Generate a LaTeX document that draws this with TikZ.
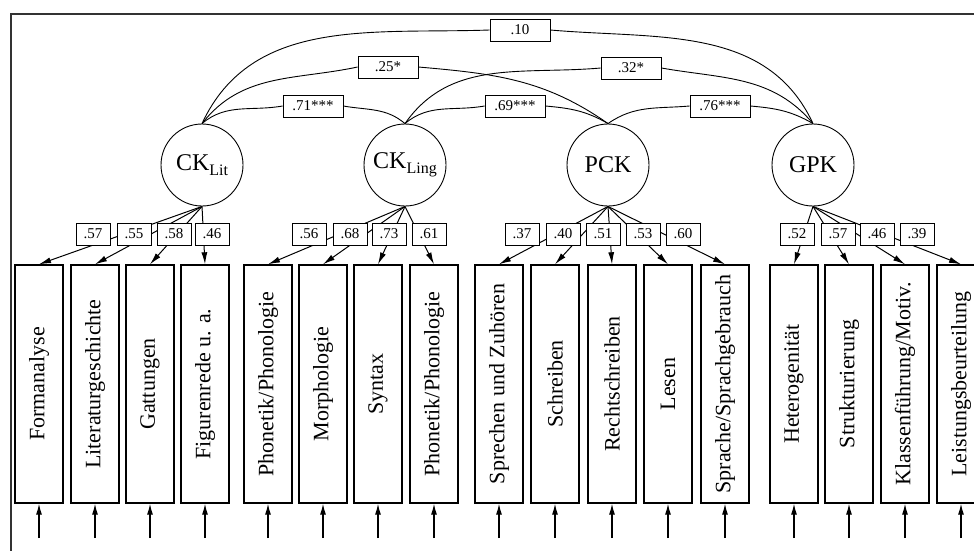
\documentclass[tikz,border=0pt]{standalone}
\usepackage{fontspec}
\setmainfont{Liberation Serif}
\usetikzlibrary{arrows.meta}
\newcommand{\lsub}[1]{\raisebox{-5pt}{\fontsize{16}{16}\selectfont #1}}

\begin{document}
\begin{tikzpicture}[x=1pt, y=1pt,
    lat/.style={draw, circle, line width=0.9pt, minimum size=82pt, inner sep=0pt, font=\fontsize{24}{24}\selectfont},
    ind/.style={draw, line width=1.4pt, minimum width=48pt, minimum height=238pt, inner sep=0pt, font=\fontsize{22}{22}\selectfont},
    wt/.style={draw, fill=white, line width=0.8pt, minimum width=34pt, minimum height=22pt, inner sep=1pt, font=\fontsize{15}{15}\selectfont},
    cv/.style={wt, minimum width=60pt},
    load/.style={line width=1pt, -{Latex[length=12pt, width=6pt]}},
    err/.style={line width=1.1pt, -{Latex[length=11pt, width=6pt]}},
    cov/.style={line width=0.9pt}]
    \useasboundingbox (0,0) rectangle (974,-550);
    \draw[line width=2pt, black!80] (11,-600) -- (11,-14) -- (1000,-14);
    \node[lat] (lit)  at (202,-165) {CK\lsub{Lit}};
    \node[lat] (ling) at (405,-165) {CK\lsub{Ling}};
    \node[lat] (pck)  at (608,-165) {PCK};
    \node[lat] (gpk)  at (813,-165) {GPK};
    \foreach \n/\x/\t in {1/39/Formanalyse, 2/95/Literaturgeschichte, 3/150/Gattungen, 4/205/Figurenrede u. a.,
        5/268/{Phonetik/Phonologie}, 6/323/Morphologie, 7/378/Syntax, 8/434/{Phonetik/Phonologie},
        9/499/Sprechen und Zuhören, 10/555/Schreiben, 11/612/Rechtschreiben, 12/668/Lesen, 13/725/{Sprache/Sprachgebrauch},
        14/794/Heterogenität, 15/849/Strukturierung, 16/905/{Klassenführung/Motiv.}, 17/961/Leistungsbeurteilung}
    {
        \node[ind] (i\n) at (\x,-384) {\rotatebox{90}{\t}};
        \coordinate (e\n) at (\x,-538);
        \draw[err] (e\n) -- (i\n);
    }
    \foreach \n/\f in {1/lit, 2/lit, 3/lit, 4/lit, 5/ling, 6/ling, 7/ling, 8/ling,
        9/pck, 10/pck, 11/pck, 12/pck, 13/pck, 14/gpk, 15/gpk, 16/gpk, 17/gpk}
        \draw[load] (\f.south) -- (i\n.north);
    \foreach \n/\v/\x in {1/.57/93, 2/.55/134, 3/.58/174, 4/.46/212, 5/.56/309, 6/.68/350, 7/.73/389, 8/.61/429,
        9/.37/522, 10/.40/563, 11/.51/603, 12/.53/643, 13/.60/683, 14/.52/797, 15/.57/838, 16/.46/877, 17/.39/917}
        \node[wt] (l\n) at (\x,-234) {\v};
    \node[cv] (litling)  at (313,-106) {.71***};
    \node[cv] (lingpck)  at (515,-106) {.69***};
    \node[cv] (pckgpk)   at (720,-106) {.76***};
    \node[cv] (litpck)   at (388,-67) {.25*};
    \node[cv] (linggpk)  at (631,-68) {.32*};
    \node[cv] (litgpk)   at (520,-30) {.10};
    \draw[cov] (lit.north) to[out=40, in=190] (litling.west) (litling.east) to[out=-10, in=140] (ling.north);
    \draw[cov] (ling.north) to[out=40, in=190] (lingpck.west) (lingpck.east) to[out=-5, in=150] (pck.north);
    \draw[cov] (pck.north) to[out=35, in=185] (pckgpk.west) (pckgpk.east) to[out=-5, in=150] (gpk.north);
    \draw[cov] (lit.north) to[out=52, in=192] (litpck.west) (litpck.east) to[out=-5, in=145] (pck.north);
    \draw[cov] (ling.north) to[out=55, in=185] (linggpk.west) (linggpk.east) to[out=-10, in=130] (gpk.north);
    \draw[cov] (lit.north) to[out=65, in=182] (litgpk.west) (litgpk.east) to[out=-5, in=115] (gpk.north);
\end{tikzpicture}
\end{document}
